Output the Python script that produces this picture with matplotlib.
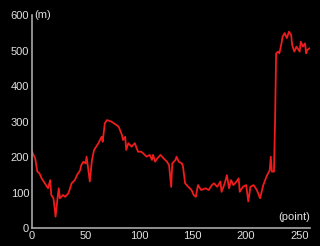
import matplotlib
matplotlib.use("Agg")
import matplotlib.pyplot as plt

# elevation profile (x = point index, y = metres)
points = [0, 3, 4, 5, 7, 9, 12, 15, 17, 18,
          20, 21, 22, 24, 25, 26, 29, 31, 34, 35,
          37, 40, 42, 45, 46, 48, 50, 51, 54, 56,
          58, 62, 65, 66, 68, 70, 74, 79, 81, 84,
          85, 87, 88, 90, 93, 96, 99, 102, 104, 107,
          110, 112, 113, 115, 117, 120, 123, 126, 128, 130,
          131, 134, 135, 137, 140, 141, 143, 146, 149, 151,
          153, 155, 158, 162, 165, 168, 170, 173, 176, 177,
          180, 182, 184, 186, 188, 191, 193, 194, 197, 200,
          202, 204, 207, 210, 213, 216, 219, 222, 223, 224,
          226, 227, 228, 230, 231, 233, 234, 236, 238, 240,
          242, 243, 245, 247, 250, 251, 253, 255, 256, 257,
          259]
elevation = [215, 196, 177, 159, 154, 140, 126, 112, 135, 93,
             84, 60, 32, 88, 112, 84, 93, 88, 98, 107,
             126, 135, 149, 163, 177, 187, 182, 201, 131, 192,
             220, 239, 257, 243, 295, 304, 300, 290, 285, 262,
             248, 257, 220, 239, 229, 239, 215, 215, 210, 201,
             206, 192, 206, 187, 196, 206, 196, 187, 177, 116,
             182, 192, 201, 187, 182, 173, 126, 116, 107, 93,
             88, 121, 107, 112, 107, 121, 126, 116, 131, 102,
             126, 149, 112, 135, 121, 131, 140, 102, 116, 121,
             75, 116, 121, 107, 84, 121, 145, 163, 201, 159,
             159, 304, 492, 497, 492, 520, 539, 549, 535, 553,
             544, 515, 497, 511, 497, 525, 511, 520, 492, 501,
             506]

y_ticks = [0, 100, 200, 300, 400, 500, 600]
x_ticks = [0, 50, 100, 150, 200, 250]

plt.rcParams['font.family'] = ['Liberation Sans', 'DejaVu Sans']

fig = plt.figure(figsize=(3.2, 2.46), dpi=100, facecolor='black')
ax = fig.add_axes([0.1, 0.073, 0.87, 0.866], facecolor='black')

ax.plot(points, elevation, color='#ee1c1c', linewidth=1.3)

ax.set_xlim(0, 260)
ax.set_ylim(0, 600)
ax.set_xticks(x_ticks)
ax.set_yticks(y_ticks)

for side in ['top', 'right']:
    ax.spines[side].set_visible(False)
for side in ['left', 'bottom']:
    ax.spines[side].set_color('#a8a8a8')
    ax.spines[side].set_linewidth(1.2)

ax.tick_params(length=0, colors='#e0e0e0', labelsize=8, pad=2)

ax.text(2.5, 600, '(m)', color='#e0e0e0', fontsize=8, ha='left', va='center')
ax.text(260, 18, '(point)', color='#e0e0e0', fontsize=8, ha='right', va='bottom')

plt.savefig('out.png', dpi=100, facecolor='black')
